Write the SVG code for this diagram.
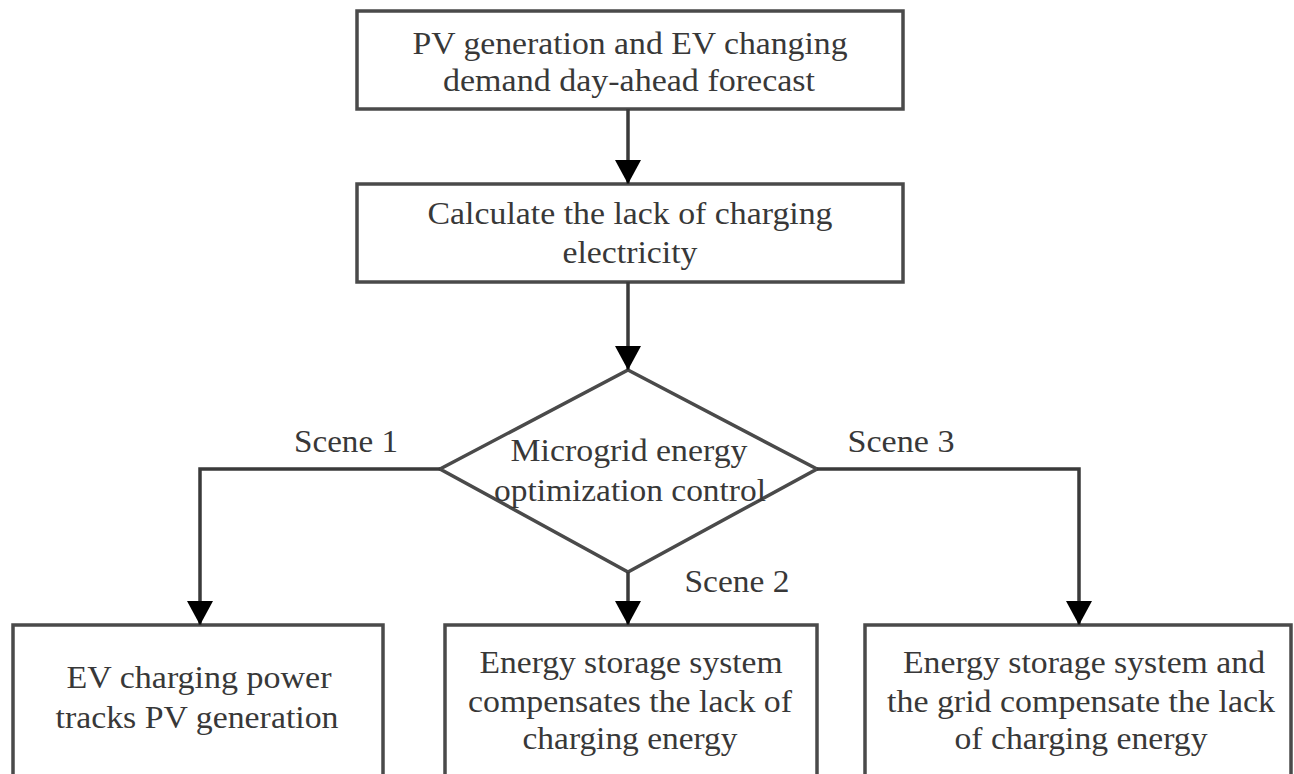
<svg xmlns="http://www.w3.org/2000/svg" width="1294" height="774" viewBox="0 0 1294 774">
<style>
.box{fill:#fff;stroke:#4a4a4a;stroke-width:3.5}
.t{font-family:"Liberation Serif","Times New Roman",serif;font-size:32px;fill:#383838;text-anchor:middle}
.c{fill:none;stroke:#3a3a3a;stroke-width:3.5}
</style>
<defs>
<marker id="ah" markerWidth="24" markerHeight="26" refX="24" refY="13" orient="auto" markerUnits="userSpaceOnUse" viewBox="0 0 24 26">
<path d="M0,0 L24,13 L0,26 z" fill="#000"/>
</marker>
</defs>
<rect width="1294" height="774" fill="#fff"/>
<g id="n1"><rect class="box" x="357" y="11" width="546" height="98"/>
<text class="t" x="630" y="54" textLength="435" lengthAdjust="spacingAndGlyphs">PV generation and EV changing</text>
<text class="t" x="629" y="91" textLength="372" lengthAdjust="spacingAndGlyphs">demand day-ahead forecast</text></g>
<g id="n2"><rect class="box" x="357" y="184" width="546" height="98"/>
<text class="t" x="630" y="224" textLength="405" lengthAdjust="spacingAndGlyphs">Calculate the lack of charging</text>
<text class="t" x="630" y="263" textLength="135" lengthAdjust="spacingAndGlyphs">electricity</text></g>
<g id="n3"><polygon class="box" points="628,370 817,469 628,572 440,469"/>
<text class="t" x="629" y="461" textLength="237" lengthAdjust="spacingAndGlyphs">Microgrid energy</text>
<text class="t" x="630" y="501" textLength="272" lengthAdjust="spacingAndGlyphs">optimization control</text></g>
<g id="n4"><rect class="box" x="13" y="625" width="370" height="170"/>
<text class="t" x="199" y="688" textLength="265" lengthAdjust="spacingAndGlyphs">EV charging power</text>
<text class="t" x="197" y="728" textLength="283" lengthAdjust="spacingAndGlyphs">tracks PV generation</text></g>
<g id="n5"><rect class="box" x="445" y="625" width="372" height="170"/>
<text class="t" x="631" y="673" textLength="303" lengthAdjust="spacingAndGlyphs">Energy storage system</text>
<text class="t" x="630" y="712" textLength="324" lengthAdjust="spacingAndGlyphs">compensates the lack of</text>
<text class="t" x="630" y="749" textLength="215" lengthAdjust="spacingAndGlyphs">charging energy</text></g>
<g id="n6"><rect class="box" x="865" y="625" width="426" height="170"/>
<text class="t" x="1084" y="673" textLength="362" lengthAdjust="spacingAndGlyphs">Energy storage system and</text>
<text class="t" x="1081" y="712" textLength="388" lengthAdjust="spacingAndGlyphs">the grid compensate the lack</text>
<text class="t" x="1081" y="749" textLength="253" lengthAdjust="spacingAndGlyphs">of charging energy</text></g>
<g id="connectors">
<path class="c" d="M628,109 V184" marker-end="url(#ah)"/>
<path class="c" d="M628,282 V370" marker-end="url(#ah)"/>
<path class="c" d="M440,469 H200 V625" marker-end="url(#ah)"/>
<path class="c" d="M817,469 H1079 V625" marker-end="url(#ah)"/>
<path class="c" d="M628,572 V625" marker-end="url(#ah)"/>
<text class="t" x="346" y="452" textLength="104" lengthAdjust="spacingAndGlyphs">Scene 1</text>
<text class="t" x="901" y="452" textLength="107" lengthAdjust="spacingAndGlyphs">Scene 3</text>
<text class="t" x="737" y="592" textLength="105" lengthAdjust="spacingAndGlyphs">Scene 2</text>
</g>
</svg>
